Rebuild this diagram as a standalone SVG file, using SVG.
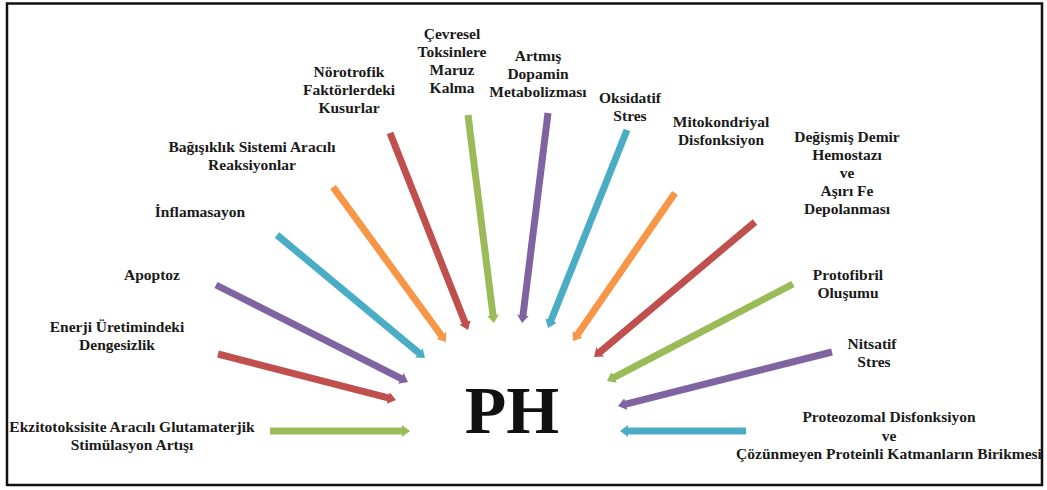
<svg xmlns="http://www.w3.org/2000/svg" width="1047" height="490" viewBox="0 0 1047 490">
<style>
.lbl{font-family:"Liberation Serif","Times New Roman",serif;font-weight:bold;font-size:15.5px;fill:#1a1a1a;text-anchor:middle}
.ph{font-family:"Liberation Serif","Times New Roman",serif;font-weight:bold;font-size:68px;fill:#111;text-anchor:middle}
.a{stroke-width:7;fill:none;stroke-linecap:butt}
.g{stroke:#9BBB59}.r{stroke:#C0504D}.p{stroke:#8064A2}.t{stroke:#4BACC6}.o{stroke:#F79646}
</style>
<defs>
<marker id="mg" viewBox="0 0 8 12" markerWidth="8" markerHeight="12" refX="1" refY="6" orient="auto" markerUnits="userSpaceOnUse"><path d="M0,0 L8,6 L0,12 z" fill="#9BBB59"/></marker>
<marker id="mr" viewBox="0 0 8 12" markerWidth="8" markerHeight="12" refX="1" refY="6" orient="auto" markerUnits="userSpaceOnUse"><path d="M0,0 L8,6 L0,12 z" fill="#C0504D"/></marker>
<marker id="mp" viewBox="0 0 8 12" markerWidth="8" markerHeight="12" refX="1" refY="6" orient="auto" markerUnits="userSpaceOnUse"><path d="M0,0 L8,6 L0,12 z" fill="#8064A2"/></marker>
<marker id="mt" viewBox="0 0 8 12" markerWidth="8" markerHeight="12" refX="1" refY="6" orient="auto" markerUnits="userSpaceOnUse"><path d="M0,0 L8,6 L0,12 z" fill="#4BACC6"/></marker>
<marker id="mo" viewBox="0 0 8 12" markerWidth="8" markerHeight="12" refX="1" refY="6" orient="auto" markerUnits="userSpaceOnUse"><path d="M0,0 L8,6 L0,12 z" fill="#F79646"/></marker>
</defs>
<rect x="0" y="0" width="1047" height="490" fill="#fff"/>
<rect x="7" y="3.5" width="1035" height="481.5" fill="none" stroke="#111" stroke-width="2.5"/>

<g id="connectors">
<line class="a g" x1="270" y1="431" x2="403" y2="431" marker-end="url(#mg)"/>
<line class="a r" x1="218" y1="354" x2="389.2" y2="398.2" marker-end="url(#mr)"/>
<line class="a p" x1="216" y1="285" x2="401.8" y2="378.8" marker-end="url(#mp)"/>
<line class="a t" x1="277" y1="235" x2="419.6" y2="353.5" marker-end="url(#mt)"/>
<line class="a o" x1="333" y1="187" x2="441.9" y2="336.3" marker-end="url(#mo)"/>
<line class="a r" x1="390" y1="133" x2="465.4" y2="323.5" marker-end="url(#mr)"/>
<line class="a g" x1="468" y1="115" x2="493.1" y2="316.1" marker-end="url(#mg)"/>
<line class="a p" x1="548" y1="113" x2="522.9" y2="316.1" marker-end="url(#mp)"/>
<line class="a t" x1="627" y1="130" x2="550.6" y2="321.5" marker-end="url(#mt)"/>
<line class="a o" x1="675" y1="193" x2="577" y2="335.2" marker-end="url(#mo)"/>
<line class="a r" x1="755" y1="222" x2="599.4" y2="352.5" marker-end="url(#mr)"/>
<line class="a g" x1="793" y1="284" x2="613.2" y2="377.8" marker-end="url(#mg)"/>
<line class="a p" x1="832" y1="352" x2="624.8" y2="404.3" marker-end="url(#mp)"/>
<line class="a t" x1="746" y1="431" x2="627" y2="431" marker-end="url(#mt)"/>
</g>

<g id="ph"><text class="ph" x="512" y="433">PH</text></g>

<g id="n1"><text class="lbl" x="132" y="432">Ekzitotoksisite Aracılı Glutamaterjik</text><text class="lbl" x="132" y="450">Stimülasyon Artışı</text></g>
<g id="n2"><text class="lbl" x="117" y="332">Enerji Üretimindeki</text><text class="lbl" x="117" y="350">Dengesizlik</text></g>
<g id="n3"><text class="lbl" x="152" y="280">Apoptoz</text></g>
<g id="n4"><text class="lbl" x="200" y="217">İnflamasayon</text></g>
<g id="n5"><text class="lbl" x="252" y="152">Bağışıklık Sistemi Aracılı</text><text class="lbl" x="252" y="170">Reaksiyonlar</text></g>
<g id="n6"><text class="lbl" x="349" y="77">Nörotrofik</text><text class="lbl" x="349" y="95">Faktörlerdeki</text><text class="lbl" x="349" y="113">Kusurlar</text></g>
<g id="n7"><text class="lbl" x="452" y="39">Çevresel</text><text class="lbl" x="452" y="57">Toksinlere</text><text class="lbl" x="452" y="75">Maruz</text><text class="lbl" x="452" y="93">Kalma</text></g>
<g id="n8"><text class="lbl" x="538" y="61">Artmış</text><text class="lbl" x="538" y="79">Dopamin</text><text class="lbl" x="538" y="97">Metabolizması</text></g>
<g id="n9"><text class="lbl" x="630" y="103">Oksidatif</text><text class="lbl" x="630" y="121">Stres</text></g>
<g id="n10"><text class="lbl" x="721" y="127">Mitokondriyal</text><text class="lbl" x="721" y="145">Disfonksiyon</text></g>
<g id="n11"><text class="lbl" x="847" y="142">Değişmiş Demir</text><text class="lbl" x="847" y="160">Hemostazı</text><text class="lbl" x="847" y="178">ve</text><text class="lbl" x="847" y="196">Aşırı Fe</text><text class="lbl" x="847" y="214">Depolanması</text></g>
<g id="n12"><text class="lbl" x="848" y="280">Protofibril</text><text class="lbl" x="848" y="298">Oluşumu</text></g>
<g id="n13"><text class="lbl" x="872" y="349">Nitsatif</text><text class="lbl" x="874" y="367">Stres</text></g>
<g id="n14"><text class="lbl" x="889" y="422">Proteozomal Disfonksiyon</text><text class="lbl" x="889" y="441">ve</text><text class="lbl" x="889" y="459">Çözünmeyen Proteinli Katmanların Birikmesi</text></g>
</svg>
